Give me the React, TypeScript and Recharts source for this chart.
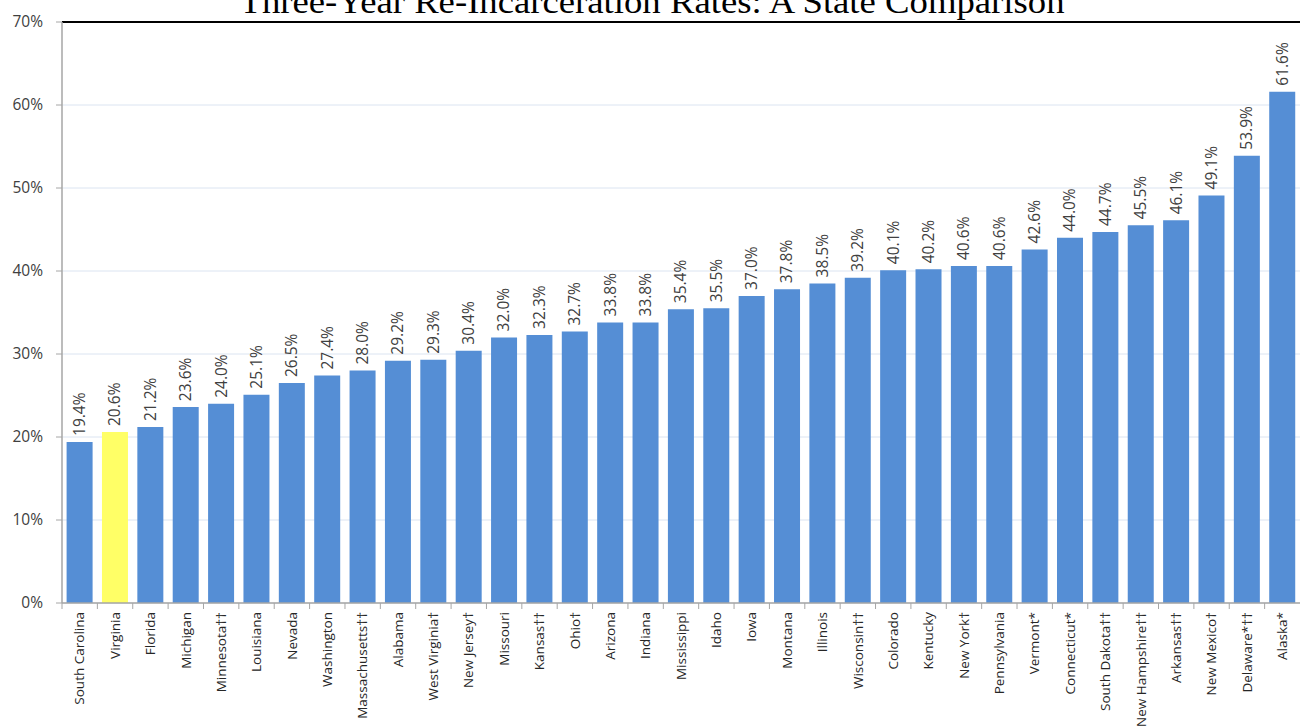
import { BarChart, Bar, XAxis, YAxis, CartesianGrid, ReferenceLine, LabelList, Cell } from 'recharts';

const states = [
    'South Carolina', 'Virginia', 'Florida', 'Michigan', 'Minnesota††', 'Louisiana', 'Nevada',
    'Washington', 'Massachusetts††', 'Alabama', 'West Virginia†', 'New Jersey†', 'Missouri',
    'Kansas††', 'Ohio†', 'Arizona', 'Indiana', 'Mississippi', 'Idaho', 'Iowa', 'Montana',
    'Illinois', 'Wisconsin††', 'Colorado', 'Kentucky', 'New York†', 'Pennsylvania', 'Vermont*',
    'Connecticut*', 'South Dakota††', 'New Hampshire††', 'Arkansas††', 'New Mexico†',
    'Delaware*††', 'Alaska*',
];

const rates = [
    19.4, 20.6, 21.2, 23.6, 24.0, 25.1, 26.5, 27.4, 28.0, 29.2, 29.3, 30.4, 32.0, 32.3, 32.7,
    33.8, 33.8, 35.4, 35.5, 37.0, 37.8, 38.5, 39.2, 40.1, 40.2, 40.6, 40.6, 42.6, 44.0, 44.7,
    45.5, 46.1, 49.1, 53.9, 61.6,
];

const highlighted = 'Virginia';
const yTicks = [0, 10, 20, 30, 40, 50, 60, 70];

const chartData = states.map((state, i) => ({ state, rate: rates[i] }));

const FONT = '"Open Sans", "Noto Sans", sans-serif';
const TICK_SIZE = 6;
const TICK_MARGIN = 3;

// nom de l'etat tourne, avec un petit trait a la limite gauche de la categorie
const StateTick = (props: any) => {
    const { x, y, payload } = props;
    const half = payload?.offset ?? 0;
    const axisY = y - TICK_SIZE - TICK_MARGIN;
    return (
        <g>
            <line x1={x - half} x2={x - half} y1={axisY} y2={axisY + TICK_SIZE} stroke='#a6a6a6' strokeWidth={1} />
            <text
                x={x}
                y={y}
                dy='0.35em'
                textAnchor='end'
                transform={`rotate(-90, ${x}, ${y})`}
                fontSize={13.5}
                fontFamily={FONT}
                fill='#262626'
            >
                {payload.value}
            </text>
        </g>
    );
};

const PercentTick = (props: any) => {
    const { x, y, payload } = props;
    return (
        <text x={x} y={y} dy='0.35em' textAnchor='end' fontSize={15.5} fontFamily={FONT} fill='#404040'>
            {`${payload.value}%`}
        </text>
    );
};

const ValueLabel = (props: any) => {
    const { x, y, width, value } = props;
    const cx = x + width / 2;
    const ty = y - 6;
    return (
        <text
            x={cx}
            y={ty}
            dy='0.35em'
            textAnchor='start'
            transform={`rotate(-90, ${cx}, ${ty})`}
            fontSize={15.5}
            fontFamily={FONT}
            fill='#404040'
        >
            {`${Number(value).toFixed(1)}%`}
        </text>
    );
};

export default function App() {
    return (
        <div style={{ position: 'absolute', left: 0, top: 0, width: 1300, height: 727, background: '#fff' }}>
            <svg width={1300} height={40} style={{ position: 'absolute', left: 0, top: 0 }}>
                <text
                    x={652}
                    y={13}
                    textAnchor='middle'
                    textLength={825}
                    lengthAdjust='spacingAndGlyphs'
                    fontFamily='"Liberation Serif", "DejaVu Serif", serif'
                    fontSize={34}
                    fill='#000'
                >
                    Three-Year Re-Incarceration Rates: A State Comparison
                </text>
            </svg>
            <BarChart
                width={1300}
                height={727}
                data={chartData}
                margin={{ top: 22, right: 0, left: 0, bottom: 0 }}
                barCategoryGap='13%'
            >
                <CartesianGrid vertical={false} stroke='#dbe4f1' strokeWidth={1} />
                <XAxis
                    dataKey='state'
                    interval={0}
                    height={124}
                    tickSize={TICK_SIZE}
                    tickMargin={TICK_MARGIN}
                    tickLine={false}
                    axisLine={{ stroke: '#a6a6a6', strokeWidth: 1.5 }}
                    tick={<StateTick />}
                />
                <YAxis
                    width={62}
                    domain={[0, 70]}
                    ticks={yTicks}
                    interval={0}
                    tickSize={6}
                    tickMargin={13}
                    axisLine={{ stroke: '#a6a6a6', strokeWidth: 1.5 }}
                    tickLine={{ stroke: '#a6a6a6' }}
                    tick={<PercentTick />}
                />
                <ReferenceLine y={70} stroke='#000' strokeWidth={2} />
                <Bar dataKey='rate' fill='#558ed5' isAnimationActive={false}>
                    {chartData.map((d) => (
                        <Cell key={d.state} fill={d.state === highlighted ? '#ffff66' : '#558ed5'} />
                    ))}
                    <LabelList dataKey='rate' content={<ValueLabel />} />
                </Bar>
            </BarChart>
        </div>
    );
}
